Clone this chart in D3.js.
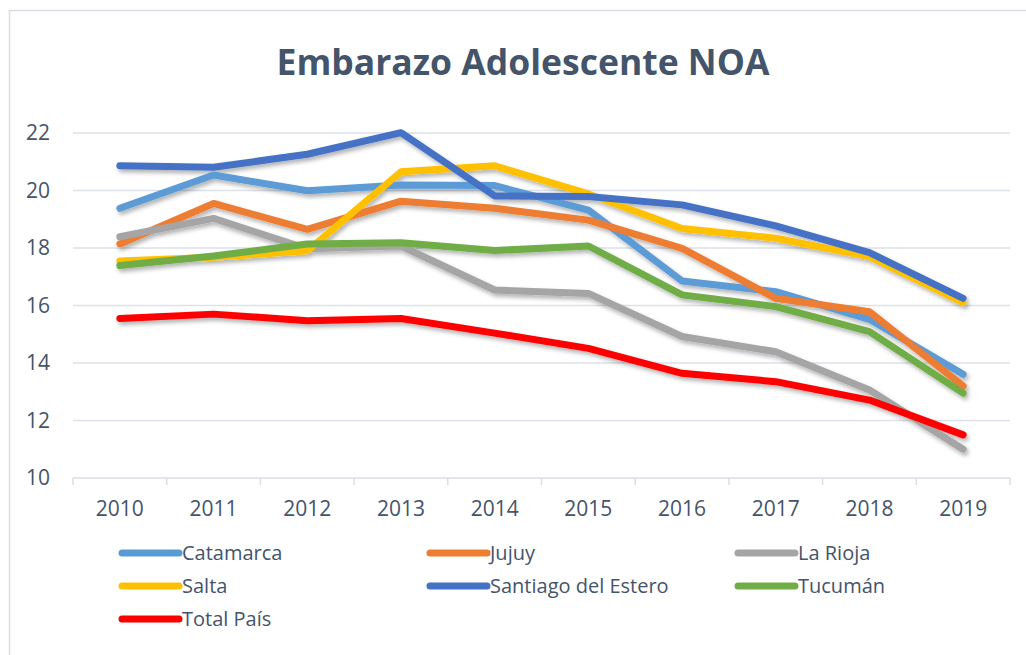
<!DOCTYPE html>
<html>
<head>
<meta charset="utf-8">
<script src="https://cdn.jsdelivr.net/npm/d3@7"></script>
<style>
  body { margin: 0; background: #fff; }
  text { font-family: "Open Sans", sans-serif; fill: #44546a; }
</style>
</head>
<body>
<div id="chart"></div>
<script>
const years = ['2010', '2011', '2012', '2013', '2014', '2015', '2016', '2017', '2018', '2019'];
const yTicks = [10, 12, 14, 16, 18, 20, 22];

const catamarca = [19.38, 20.54, 19.99, 20.19, 20.17, 19.32, 16.85, 16.48, 15.52, 13.61];
const jujuy = [18.14, 19.55, 18.65, 19.63, 19.38, 18.97, 17.99, 16.25, 15.78, 13.20];
const laRioja = [18.39, 19.03, 17.97, 18.07, 16.54, 16.42, 14.92, 14.39, 13.06, 11.00];
const salta = [17.55, 17.68, 17.90, 20.65, 20.86, 19.88, 18.68, 18.34, 17.70, 16.10];
const santiago = [20.86, 20.81, 21.26, 22.01, 19.81, 19.79, 19.50, 18.77, 17.84, 16.25];
const tucuman = [17.39, 17.72, 18.14, 18.18, 17.91, 18.07, 16.37, 15.96, 15.09, 12.95];
const totalPais = [15.55, 15.70, 15.47, 15.55, 15.04, 14.51, 13.64, 13.35, 12.71, 11.50];

const seriesNames = ['Catamarca', 'Jujuy', 'La Rioja', 'Salta', 'Santiago del Estero', 'Tucumán', 'Total País'];
const seriesValues = [catamarca, jujuy, laRioja, salta, santiago, tucuman, totalPais];
const seriesColors = ['#5b9bd5', '#ed7d31', '#a5a5a5', '#ffc000', '#4472c4', '#70ad47', '#ff0000'];

const width = 1026, height = 655;
const plot = {left: 73, right: 1010, top: 133, bottom: 478};

const svg = d3.select('#chart').append('svg')
  .attr('width', width)
  .attr('height', height);

// drop shadow like the office chart
const defs = svg.append('defs');
const shadow = defs.append('filter').attr('id', 'shadow')
  .attr('x', '-10%').attr('y', '-10%').attr('width', '120%').attr('height', '130%');
shadow.append('feDropShadow')
  .attr('dx', 2).attr('dy', 3).attr('stdDeviation', 2)
  .attr('flood-color', '#000').attr('flood-opacity', 0.3);

// outer frame
svg.append('rect')
  .attr('x', 9.5).attr('y', 10.5)
  .attr('width', width + 10).attr('height', height + 10)
  .attr('fill', 'none').attr('stroke', '#d9dee6').attr('stroke-width', 1.5);

// title, sized to fit the reference width
const title = svg.append('text')
  .attr('x', 523).attr('y', 75)
  .attr('text-anchor', 'middle')
  .attr('font-weight', 700)
  .attr('font-size', 36)
  .text('Embarazo Adolescente NOA');
const tw = title.node().getComputedTextLength();
title.attr('font-size', 36 * 493 / tw);

const x = d3.scaleBand()
  .domain(years)
  .range([plot.left, plot.right]);

const y = d3.scaleLinear()
  .domain([10, 22])
  .range([plot.bottom, plot.top]);

// gridlines
svg.append('g')
  .selectAll('line')
  .data(yTicks.filter(d => d > 10))
  .join('line')
  .attr('x1', plot.left).attr('x2', plot.right)
  .attr('y1', d => y(d)).attr('y2', d => y(d))
  .attr('stroke', '#dde2ea').attr('stroke-width', 1.5);

// y axis labels
const yAxis = svg.append('g')
  .attr('transform', `translate(${plot.left}, 0)`)
  .call(d3.axisLeft(y).tickValues(yTicks).tickSize(0).tickPadding(23));
yAxis.select('.domain').remove();
yAxis.selectAll('text')
  .attr('font-size', 21)
  .attr('fill', '#44546a')
  .style('font-family', '"Open Sans", sans-serif');

// x axis with ticks on band boundaries
svg.append('line')
  .attr('x1', plot.left).attr('x2', plot.right)
  .attr('y1', plot.bottom).attr('y2', plot.bottom)
  .attr('stroke', '#d9dee6').attr('stroke-width', 1.5);
svg.append('g')
  .selectAll('line')
  .data(years.map(d => x(d)).concat([plot.right]))
  .join('line')
  .attr('x1', d => d).attr('x2', d => d)
  .attr('y1', plot.bottom).attr('y2', plot.bottom + 7)
  .attr('stroke', '#d9dee6').attr('stroke-width', 1.5);
svg.append('g')
  .selectAll('text')
  .data(years)
  .join('text')
  .attr('x', d => x(d) + x.bandwidth() / 2)
  .attr('y', 516)
  .attr('text-anchor', 'middle')
  .attr('font-size', 21)
  .text(d => d);

// lines
const line = d3.line()
  .x((d, i) => x(years[i]) + x.bandwidth() / 2)
  .y(d => y(d));

svg.append('g')
  .attr('filter', 'url(#shadow)')
  .selectAll('path')
  .data(seriesValues)
  .join('path')
  .attr('d', line)
  .attr('fill', 'none')
  .attr('stroke', (d, i) => seriesColors[i])
  .attr('stroke-width', 7)
  .attr('stroke-linecap', 'round')
  .attr('stroke-linejoin', 'round');

// legend: 3 columns
const legend = svg.append('g')
  .selectAll('g')
  .data(seriesNames)
  .join('g')
  .attr('transform', (d, i) => `translate(${122 + (i % 3) * 308}, ${553 + Math.floor(i / 3) * 33})`);
legend.append('line')
  .attr('x1', 0).attr('x2', 57)
  .attr('y1', 0).attr('y2', 0)
  .attr('stroke', (d, i) => seriesColors[i])
  .attr('stroke-width', 7)
  .attr('stroke-linecap', 'round');
legend.append('text')
  .attr('x', 60)
  .attr('y', 7)
  .attr('font-size', 20)
  .text(d => d);
</script>
</body>
</html>
